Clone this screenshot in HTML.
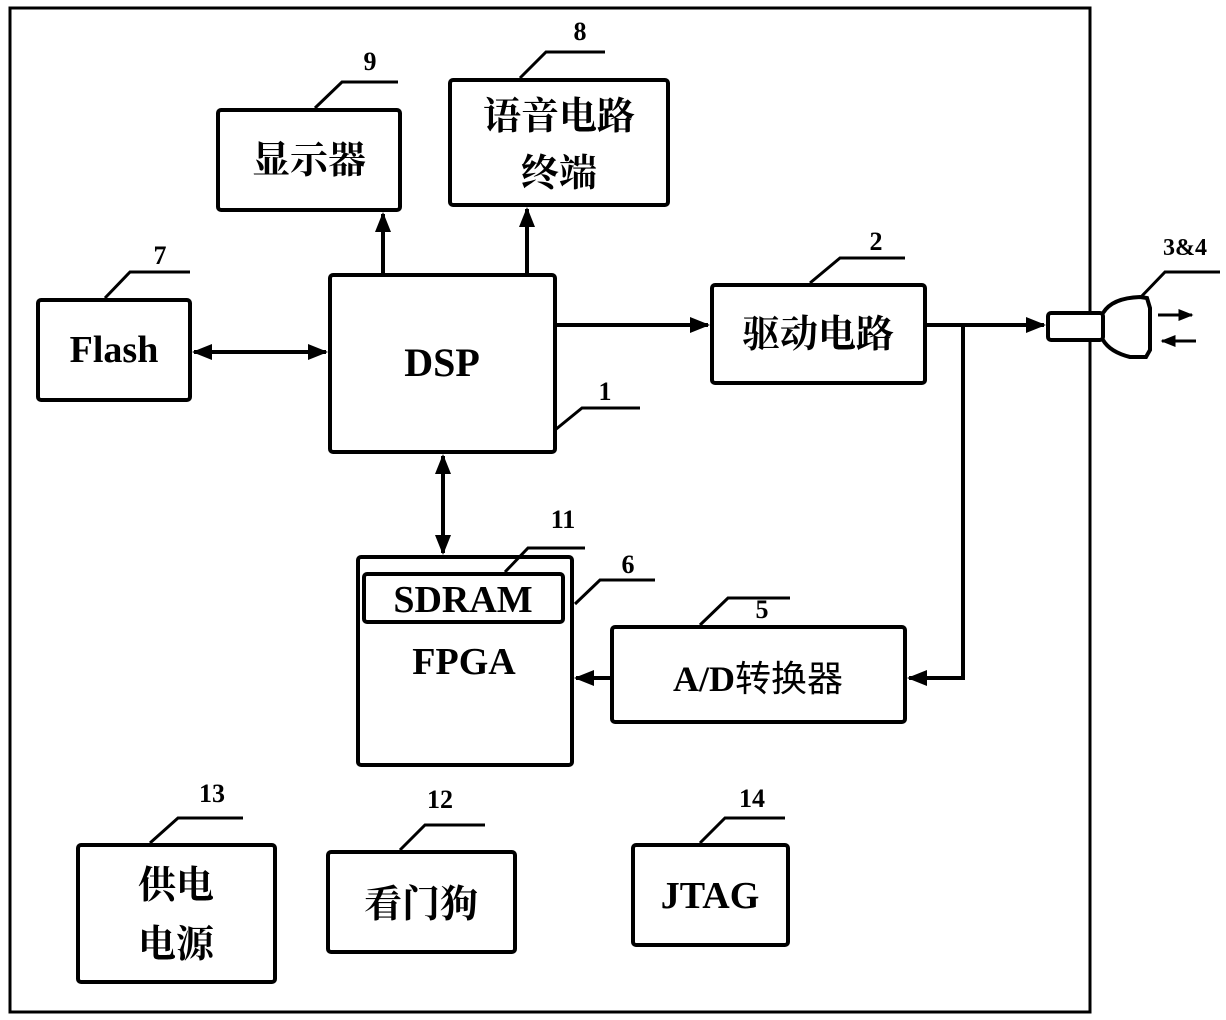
<!DOCTYPE html>
<html><head><meta charset="utf-8"><style>
html,body{margin:0;padding:0;background:#fff}
svg{display:block}
text{font-family:"Liberation Serif","Noto Serif CJK SC",serif;font-weight:bold;fill:#000}
.cn{font-family:"Liberation Serif","Noto Sans CJK SC",sans-serif;font-weight:normal}
</style></head><body>
<svg width="1226" height="1020" viewBox="0 0 1226 1020" xmlns="http://www.w3.org/2000/svg">
<defs>
<marker id="a" viewBox="0 0 10 10" refX="9" refY="5" markerWidth="5" markerHeight="5" orient="auto-start-reverse"><path d="M0,1 L10,5 L0,9 Z" fill="#000"/></marker>
</defs>
<g fill="none" stroke="#000" stroke-width="4">
<rect x="10" y="8" width="1080" height="1004" stroke-width="3"/>
<rect x="218" y="110" width="182" height="100" rx="3"/>
<rect x="450" y="80" width="218" height="125" rx="3"/>
<rect x="330" y="275" width="225" height="177" rx="3"/>
<rect x="38" y="300" width="152" height="100" rx="3"/>
<rect x="712" y="285" width="213" height="98" rx="3"/>
<rect x="358" y="557" width="214" height="208" rx="3"/>
<rect x="364" y="574" width="199" height="48" rx="3"/>
<rect x="612" y="627" width="293" height="95" rx="3"/>
<rect x="78" y="845" width="197" height="137" rx="3"/>
<rect x="328" y="852" width="187" height="100" rx="3"/>
<rect x="633" y="845" width="155" height="100" rx="3"/>
<g stroke-width="3">
<polyline points="315,108 342,82 398,82"/>
<polyline points="520,78 546,52 605,52"/>
<polyline points="555,430 582,408 640,408"/>
<polyline points="105,298 130,272 190,272"/>
<polyline points="810,283 840,258 905,258"/>
<polyline points="505,572 528,548 585,548"/>
<polyline points="575,604 600,580 655,580"/>
<polyline points="700,625 728,598 790,598"/>
<polyline points="150,843 178,818 243,818"/>
<polyline points="400,850 425,825 485,825"/>
<polyline points="700,843 725,818 785,818"/>
<polyline points="1140,298 1165,272 1220,272"/>
</g>
<line x1="383" y1="275" x2="383" y2="214" marker-end="url(#a)"/>
<line x1="527" y1="275" x2="527" y2="209" marker-end="url(#a)"/>
<line x1="194" y1="352" x2="326" y2="352" marker-start="url(#a)" marker-end="url(#a)"/>
<line x1="555" y1="325" x2="708" y2="325" marker-end="url(#a)"/>
<line x1="925" y1="325" x2="1044" y2="325" marker-end="url(#a)"/>
<polyline points="963,325 963,678 909,678" marker-end="url(#a)"/>
<line x1="612" y1="678" x2="576" y2="678" marker-end="url(#a)"/>
<line x1="443" y1="456" x2="443" y2="553" marker-start="url(#a)" marker-end="url(#a)"/>
<rect x="1048" y="313" width="55" height="27" rx="3" fill="#fff"/>
<path d="M1103,313 Q1112,298 1140,297 L1147,298 L1150,308 L1150,350 L1146,357 L1130,357 Q1110,352 1103,340"/>
<line x1="1158" y1="315" x2="1192" y2="315" stroke-width="3" marker-end="url(#a)"/>
<line x1="1196" y1="341" x2="1162" y2="341" stroke-width="3" marker-end="url(#a)"/>
</g>
<g font-size="26" text-anchor="middle">
<text x="370" y="70">9</text>
<text x="580" y="40">8</text>
<text x="605" y="400">1</text>
<text x="160" y="264">7</text>
<text x="876" y="250">2</text>
<text x="563" y="528">11</text>
<text x="628" y="573">6</text>
<text x="762" y="618">5</text>
<text x="212" y="802">13</text>
<text x="440" y="808">12</text>
<text x="752" y="807">14</text>
<text x="1185" y="255" font-size="24">3&amp;4</text>
</g>
<g text-anchor="middle">
<text x="114" y="362" font-size="38">Flash</text>
<text x="442" y="376" font-size="40">DSP</text>
<text x="463" y="612" font-size="38" font-weight="normal">SDRAM</text>
<text x="464" y="674" font-size="38">FPGA</text>
<text x="710" y="908" font-size="38">JTAG</text>
</g>
<text x="758" y="691" font-size="36" text-anchor="middle">A/D<tspan class="cn">转换器</tspan></text>
<g class="cn" text-anchor="middle" font-size="38">
<text x="309" y="173">显示器</text>
<text x="559" y="129">语音电路</text>
<text x="559" y="186">终端</text>
<text x="818" y="347">驱动电路</text>
<text x="176" y="898">供电</text>
<text x="176" y="957">电源</text>
<text x="421" y="917">看门狗</text>
</g>
</svg>
</body></html>
